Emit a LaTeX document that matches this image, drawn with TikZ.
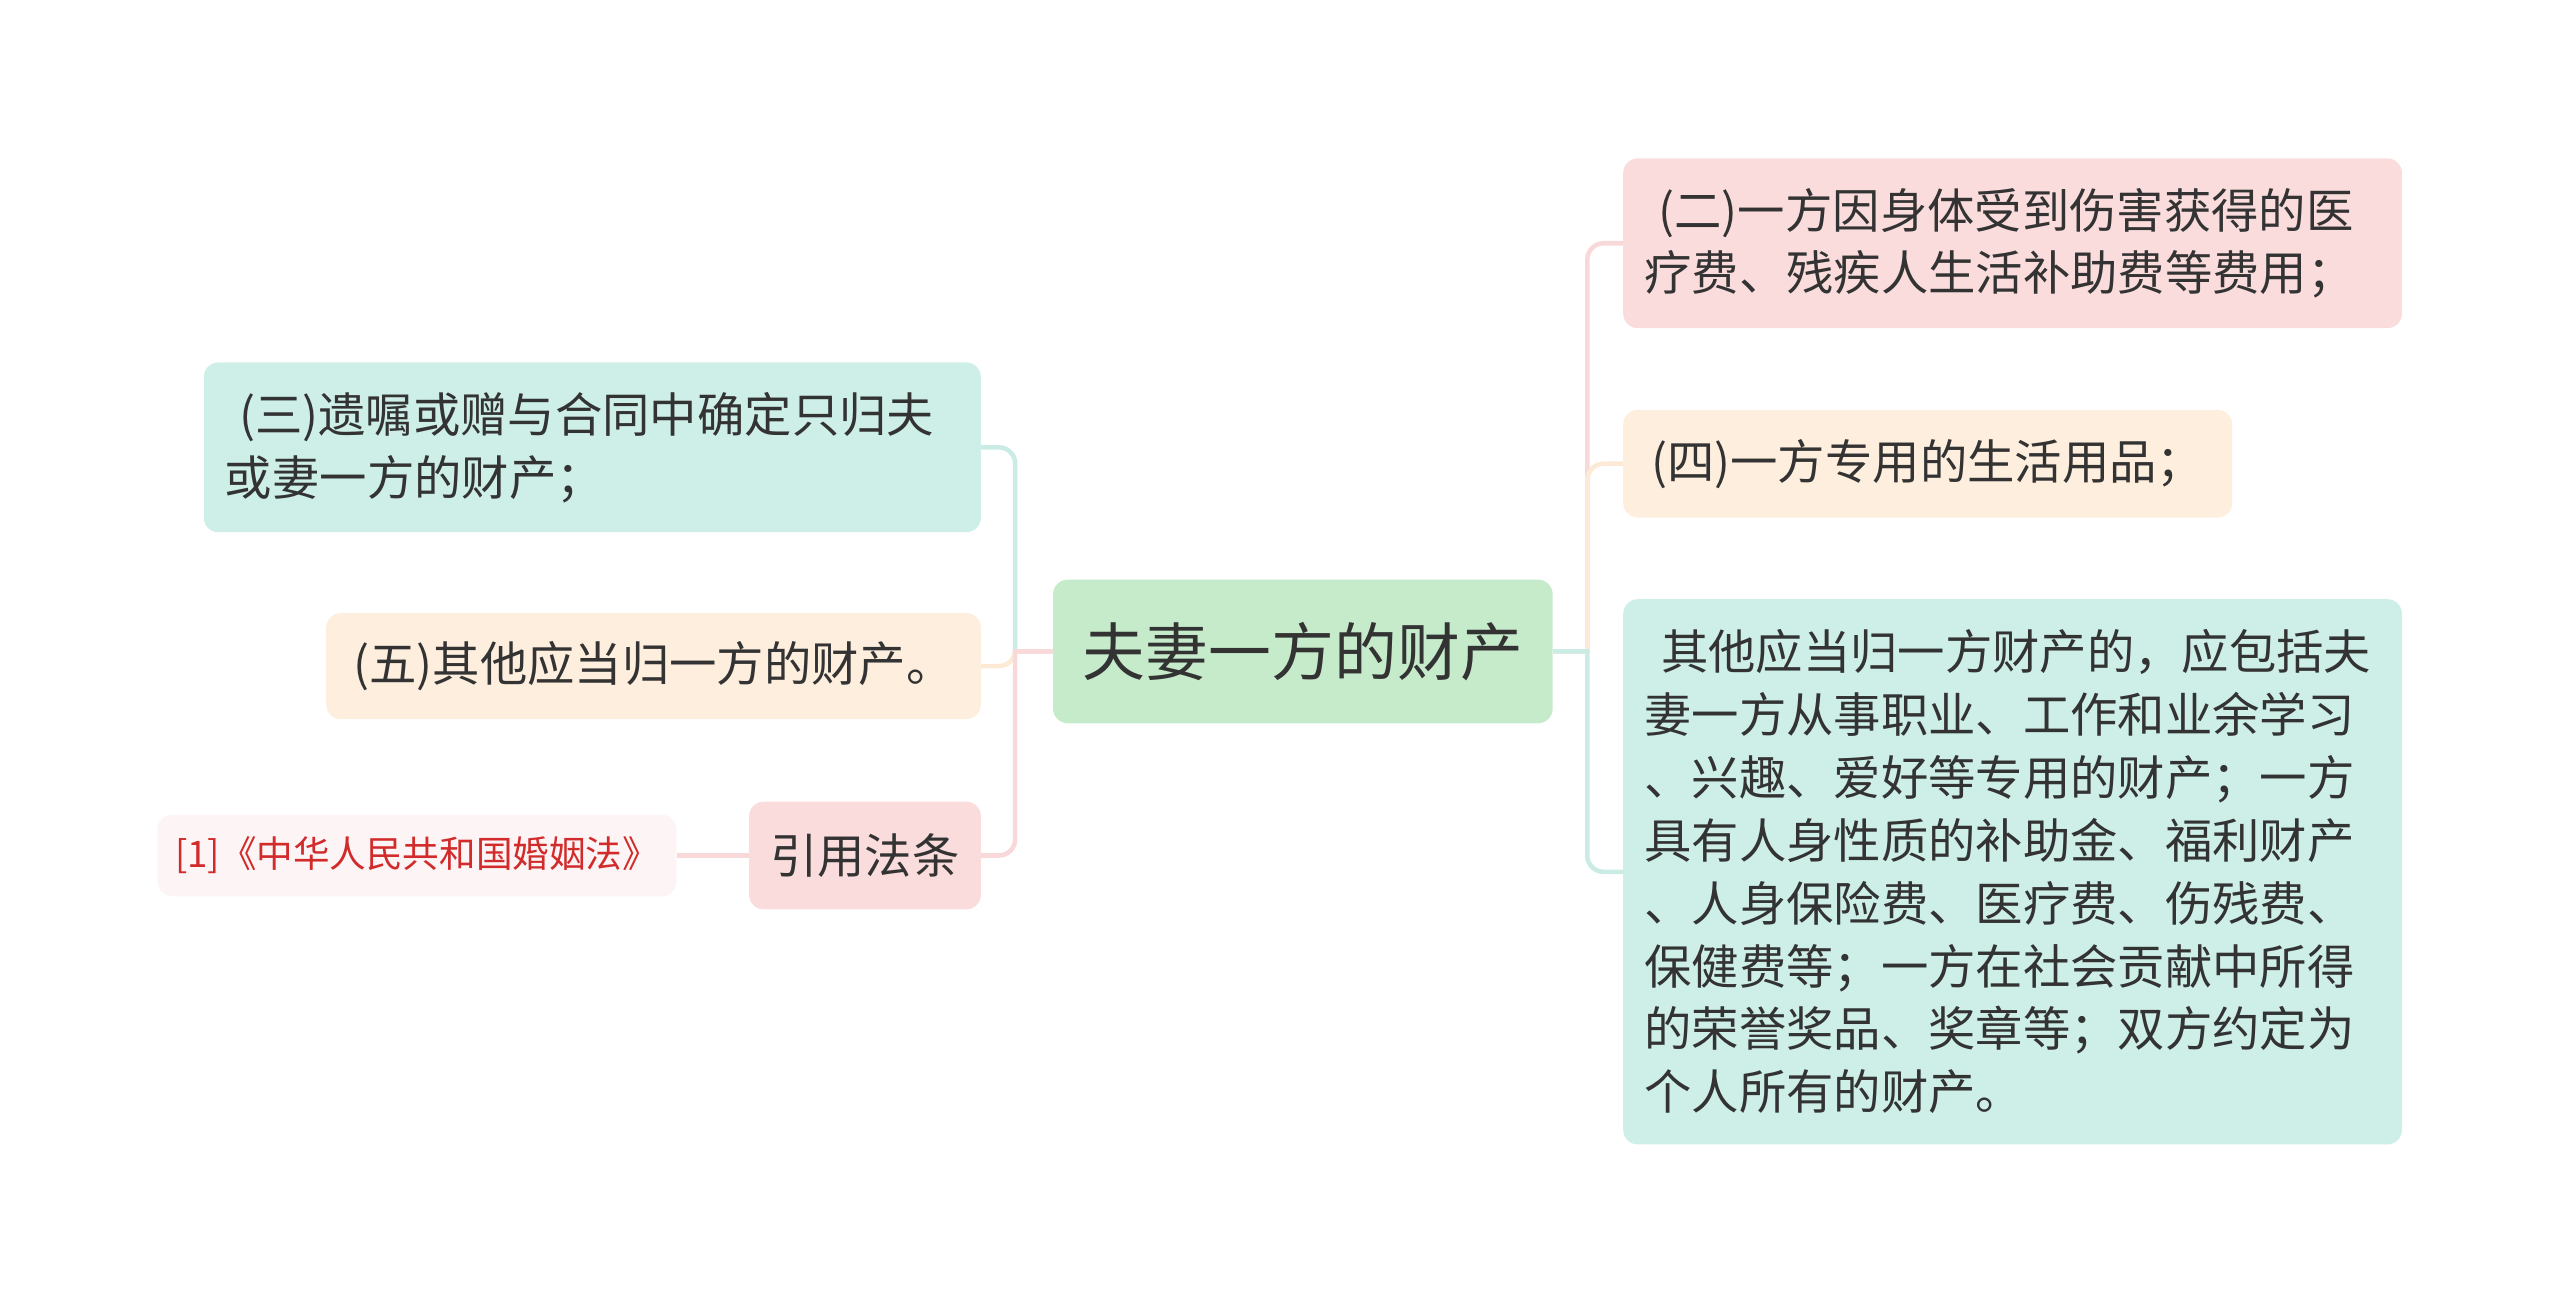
\documentclass[tikz,border=0pt]{standalone}
\usepackage{fontspec}
\setmainfont{Noto Sans CJK SC}
\usetikzlibrary{positioning}

\definecolor{rootfill}{HTML}{C6EBCB}
\definecolor{pinkfill}{HTML}{FADCDC}
\definecolor{peachfill}{HTML}{FDEEDE}
\definecolor{mintfill}{HTML}{CEEFE8}
\definecolor{leaffill}{HTML}{FDF5F5}
\definecolor{pinkline}{HTML}{F8D8D8}
\definecolor{peachline}{HTML}{FCEAD6}
\definecolor{mintline}{HTML}{CBECE5}
\definecolor{ink}{HTML}{333333}
\definecolor{citered}{HTML}{D12B2B}

\begin{document}
\begin{tikzpicture}[
  x=1pt, y=-1pt,
  font=\fontsize{29pt}{38.5pt}\selectfont,
  box/.style={rounded corners=9pt, text=ink, inner xsep=13pt, inner ysep=0pt},
  topic/.style={box, fill=rootfill, minimum width=306pt, minimum height=88pt,
                font=\fontsize{38.5pt}{44pt}\selectfont},
  pinkbox/.style={box, fill=pinkfill},
  peachbox/.style={box, fill=peachfill},
  mintbox/.style={box, fill=mintfill},
  para/.style={align=left, text width=#1},
  leafbox/.style={box, fill=leaffill, text=citered, inner xsep=9pt,
                  minimum width=318pt, minimum height=50pt,
                  font=\fontsize{22.4pt}{26pt}\selectfont},
  link/.style={line width=2.8pt, draw=#1}
]
\useasboundingbox (0,0) rectangle (1568,799);

\node[topic] (root) at (798,399) {夫妻一方的财产};

% right side
\node[pinkbox, para=451pt, minimum height=104pt, anchor=west] (two) at (994,149)
  {\hspace*{0.3em}(二)一方因身体受到伤害获得的医\\疗费、残疾人生活补助费等费用；};
\node[peachbox, minimum width=373pt, minimum height=66pt, anchor=west] (four) at (994,284)
  {(四)一方专用的生活用品；};
\node[mintbox, para=451pt, minimum height=334pt, anchor=west] (other) at (994,534)
  {\hspace*{0.35em}其他应当归一方财产的，应包括夫\\妻一方从事职业、工作和业余学习\\、兴趣、爱好等专用的财产；一方\\具有人身性质的补助金、福利财产\\、人身保险费、医疗费、伤残费、\\保健费等；一方在社会贡献中所得\\的荣誉奖品、奖章等；双方约定为\\个人所有的财产。};

% left side
\node[mintbox, para=450pt, minimum height=104pt, anchor=east] (three) at (601,274)
  {\hspace*{0.3em}(三)遗嘱或赠与合同中确定只归夫\\或妻一方的财产；};
\node[peachbox, minimum width=401pt, minimum height=65pt, anchor=east] (five) at (601,408)
  {(五)其他应当归一方的财产。};
\node[pinkbox, minimum width=142pt, minimum height=66pt, anchor=east] (cite) at (601,524)
  {引用法条};
\node[leafbox, left=44pt of cite] (law) {[1]《中华人民共和国婚姻法》};

\coordinate (jr) at ([xshift=21pt]root.east);
\coordinate (jl) at ([xshift=-23pt]root.west);

\draw[link=pinkline] (root.east) -- (jr) [rounded corners=10pt] |- (two.west);
\draw[link=peachline] (root.east) -- (jr) [rounded corners=10pt] |- (four.west);
\draw[link=mintline] (root.east) -- (jr) [rounded corners=10pt] |- (other.west);

\draw[link=mintline] (root.west) -- (jl) [rounded corners=10pt] |- (three.east);
\draw[link=peachline] (root.west) -- (jl) [rounded corners=10pt] |- (five.east);
\draw[link=pinkline] (root.west) -- (jl) [rounded corners=10pt] |- (cite.east);

\draw[link=pinkline] (cite) -- (law);
\end{tikzpicture}
\end{document}
